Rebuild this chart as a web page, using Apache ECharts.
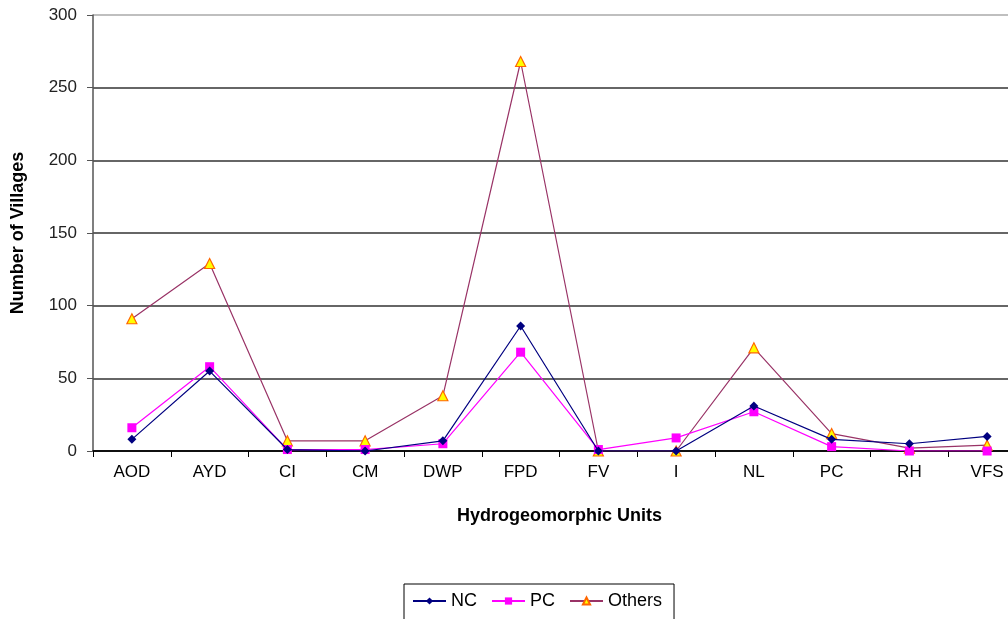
<!DOCTYPE html>
<html><head><meta charset="utf-8">
<script src="https://cdn.jsdelivr.net/npm/echarts@6/dist/echarts.min.js"></script>
<style>html,body{margin:0;padding:0;background:#fff;overflow:hidden;width:1008px;height:619px}#c{width:1026px;height:619px}</style>
</head><body><div id="c"></div>
<script>
const categories = ['AOD','AYD','CI','CM','DWP','FPD','FV','I','NL','PC','RH','VFS'];
const ncValues = [8, 55, 1, 0, 7, 86, 0, 0, 31, 8, 5, 10];
const pcValues = [16, 58, 1, 1, 5, 68, 1, 9, 27, 3, 0, 0];
const othersValues = [91, 129, 7, 7, 38, 268, 0, 0, 71, 12, 2, 4];
const yTicks = [0, 50, 100, 150, 200, 250, 300];

const font = 'Liberation Sans, Arial, sans-serif';
const chart = echarts.init(document.getElementById('c'), null, {renderer: 'canvas'});
chart.setOption({
  backgroundColor: '#fff',
  animation: false,
  grid: {left: 93, top: 15, right: 0, bottom: 168, containLabel: false},
  xAxis: {
    type: 'category', data: categories, boundaryGap: true,
    name: 'Hydrogeomorphic Units', nameLocation: 'middle', nameGap: 56,
    nameTextStyle: {fontFamily: font, fontWeight: 'bold', fontSize: 18, color: '#000'},
    axisLine: {lineStyle: {color: '#000', width: 1.5}},
    axisTick: {show: true, alignWithLabel: false, length: 6, lineStyle: {color: '#000'}},
    axisLabel: {fontFamily: font, fontSize: 17, color: '#000', margin: 13},
    splitLine: {show: false}
  },
  yAxis: {
    type: 'value', min: yTicks[0], max: yTicks[yTicks.length - 1], interval: 50,
    name: 'Number of Villages', nameLocation: 'middle', nameGap: 66,
    nameTextStyle: {fontFamily: font, fontWeight: 'bold', fontSize: 18, color: '#000'},
    axisLine: {show: true, lineStyle: {color: '#555', width: 1.5}},
    axisTick: {show: true, inside: false, length: 6, lineStyle: {color: '#555'}},
    axisLabel: {fontFamily: font, fontSize: 17, color: '#222', margin: 16},
    splitLine: {show: true, lineStyle: {color: ['#000','#333','#333','#333','#333','#333','#aaa'], width: 1.5}}
  },
  legend: {
    left: 404, top: 584,
    borderColor: '#000', borderWidth: 1, padding: [8, 12, 20, 8],
    itemGap: 14, itemWidth: 33, itemHeight: 9,
    textStyle: {fontFamily: font, fontSize: 18, color: '#000'},
    data: ['NC', 'PC', 'Others']
  },
  series: [
    {name: 'NC', type: 'line', data: ncValues, symbol: 'diamond', symbolSize: 9,
     lineStyle: {color: '#000080', width: 1.2}, itemStyle: {color: '#000080'}, z: 4},
    {name: 'PC', type: 'line', data: pcValues, symbol: 'rect', symbolSize: 9,
     lineStyle: {color: '#ff00ff', width: 1.2}, itemStyle: {color: '#ff00ff'}, z: 3},
    {name: 'Others', type: 'line', data: othersValues, symbol: 'triangle', symbolSize: 10,
     lineStyle: {color: '#993366', width: 1.2}, itemStyle: {color: '#ffff00', borderColor: '#ff6600', borderWidth: 1.2}, z: 2}
  ]
});
</script></body></html>
